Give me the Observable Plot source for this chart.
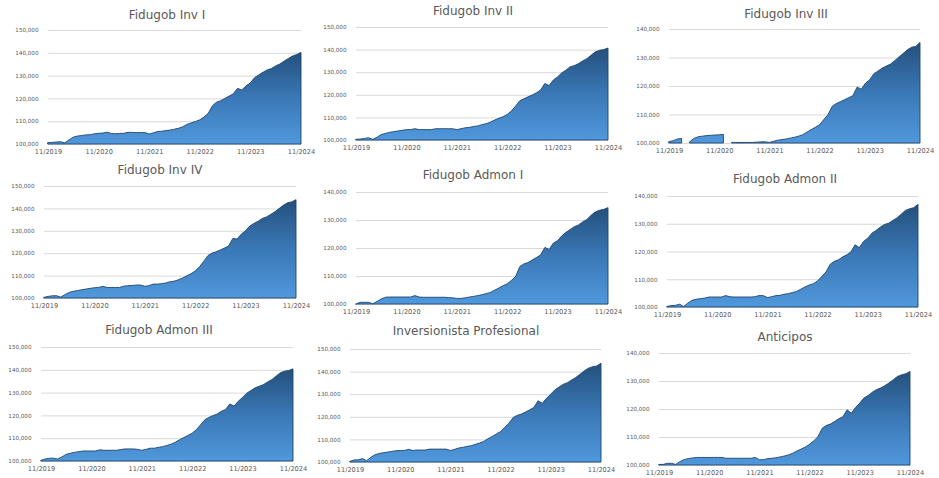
<!DOCTYPE html>
<html>
<head>
<meta charset="utf-8">
<script src="https://cdn.jsdelivr.net/npm/d3@7"></script>
<script src="https://cdn.jsdelivr.net/npm/@observablehq/plot@0.6"></script>
<style>
  html, body { margin: 0; padding: 0; background: #fff; }
  #wrap { position: relative; width: 939px; height: 478px; overflow: hidden; background: #fff; }
  .ttl { position: absolute; font-family: "DejaVu Sans", Verdana, sans-serif; font-size: 12px; color: #595959; white-space: nowrap; transform: translate(-50%, -50%); }
  .pnl { position: absolute; }
</style>
</head>
<body>
<div id="wrap"></div>
<script>
const months = [
  "2019-11","2019-12","2020-01","2020-02","2020-03","2020-04","2020-05","2020-06","2020-07","2020-08","2020-09","2020-10",
  "2020-11","2020-12","2021-01","2021-02","2021-03","2021-04","2021-05","2021-06","2021-07","2021-08","2021-09","2021-10",
  "2021-11","2021-12","2022-01","2022-02","2022-03","2022-04","2022-05","2022-06","2022-07","2022-08","2022-09","2022-10",
  "2022-11","2022-12","2023-01","2023-02","2023-03","2023-04","2023-05","2023-06","2023-07","2023-08","2023-09","2023-10",
  "2023-11","2023-12","2024-01","2024-02","2024-03","2024-04","2024-05","2024-06","2024-07","2024-08","2024-09","2024-10",
  "2024-11"
];
const xTickMonths = ["2019-11","2020-11","2021-11","2022-11","2023-11","2024-11"];
const yTicks150 = [100000,110000,120000,130000,140000,150000];
const yTicks140 = [100000,110000,120000,130000,140000];

const titles = ["Fidugob Inv I","Fidugob Inv II","Fidugob Inv III","Fidugob Inv IV","Fidugob Admon I","Fidugob Admon II","Fidugob Admon III","Inversionista Profesional","Anticipos"];

const invI = [100600,100700,100900,101000,100500,101800,103000,103500,103700,104000,104100,104500,
  104700,104800,105200,104600,104500,104600,104700,105100,105100,105000,105000,105000,
  104400,104900,105500,105600,105900,106100,106500,106900,107600,108600,109300,109900,
  110600,111800,113500,116800,118300,119000,120000,121000,122000,124400,123700,125500,
  126800,129100,130300,131500,132500,133100,134200,135100,136300,137500,138600,139200,140200];
const invII = [100300,100400,100700,101000,100300,101200,102400,102900,103400,103700,104000,104300,
  104600,104600,105000,104600,104600,104600,104600,105000,105000,105000,105000,105000,
  104600,105000,105400,105600,106000,106200,106800,107200,107900,108800,109600,110300,
  111300,112800,115000,117400,118200,119100,119900,120900,122100,125000,124100,126500,
  127900,129700,130900,132400,132900,133800,135000,136000,137500,139000,139700,140000,140700];
const invIII = [100500,100800,101400,101600,null,100500,101600,102200,102400,102600,102700,102800,
  102900,103000,null,100200,100200,100200,100200,100200,100200,100300,100400,100400,
  100200,100600,101000,101200,101400,101700,102000,102400,102900,103800,104700,105500,
  106400,108200,109900,112900,113800,114500,115200,115900,116600,119600,118900,121000,
  122200,124300,125300,126300,127000,127700,128900,130200,131400,132700,133600,133900,135300];
const invIV = [100300,100700,101000,101000,100400,101500,102500,103000,103300,103700,104000,104300,
  104600,104700,105200,104700,104700,104700,104700,105300,105500,105600,105800,105800,
  105200,105500,106200,106200,106400,106700,107200,107500,108100,108900,109900,110800,
  112100,113800,116300,118900,120000,120600,121400,122300,123200,126600,126300,128500,
  130000,132100,133300,134300,135500,136200,137300,138500,139900,141400,142500,142900,143900];
const admonI = [100000,100600,100600,100600,100100,100900,101800,102400,102500,102500,102500,102500,
  102500,102500,103000,102500,102400,102400,102400,102400,102400,102400,102300,102200,
  102000,102000,102200,102500,102700,103000,103300,103700,104100,104900,105700,106500,
  107200,108400,109800,113400,114300,114800,115700,116600,117500,120200,119500,121700,
  122600,124300,125600,126600,127600,128200,129300,130200,131700,132900,133500,133800,134400];
const admonII = [100200,100500,100600,101000,100200,101400,102400,102800,103000,103200,103600,103600,
  103600,103600,104100,103700,103600,103600,103600,103600,103600,103700,104100,104100,
  103400,103700,104100,104200,104600,104800,105200,105600,106400,107200,107900,108400,
  109400,111000,112600,115400,116400,117000,118000,118800,119800,122400,121400,123600,
  124800,126600,127600,128800,129700,130200,131200,132100,133400,134800,135400,135800,137000];
const admonIII = [100300,100900,101200,101200,100900,101800,102900,103400,103800,104100,104400,104400,
  104400,104400,104900,104700,104700,104700,104700,105000,105300,105300,105300,105100,
  104700,105100,105600,105600,106000,106300,106800,107400,108200,109300,110300,111200,
  112200,113700,115900,118100,119100,119900,120600,121800,122600,125000,124100,126200,
  127900,129700,130900,132100,132800,133500,134700,135700,137200,138700,139400,139700,140400];
const invProf = [100300,100900,101000,101500,100600,102100,103200,103800,104100,104400,104700,105000,
  105100,105100,105600,105100,105300,105300,105300,105700,105700,105700,105700,105700,
  105100,105600,106200,106500,106900,107200,107800,108400,109100,110300,111300,112400,
  113500,115300,117200,119700,120600,121200,122100,123100,124100,127100,126000,128200,
  130000,131900,133200,134400,135100,136300,137400,138800,140300,141500,142200,142500,143700];
const anticipos = [100200,100200,100600,100600,100200,101200,101900,102300,102500,102700,102700,102700,
  102700,102700,102700,102700,102400,102400,102400,102400,102400,102400,102400,102700,
  101900,101900,102300,102400,102600,102900,103200,103600,104200,105000,105700,106400,
  107400,108600,110100,113100,114100,114600,115500,116500,117200,119700,118500,120500,
  122100,123900,124800,126000,126900,127500,128300,129300,130400,131600,132200,132600,133400];

const series = [invI, invII, invIII, invIV, admonI, admonII, admonIII, invProf, anticipos];
const yTickSets = [yTicks150, yTicks150, yTicks140, yTicks150, yTicks140, yTicks140, yTicks150, yTicks150, yTicks140];

// layout: [plotLeft, plotRight, gridTop, plotBottom, titleCx, titleCy]
const layout = [
  [48, 301, 30, 144, 167, 15],
  [356, 608, 27, 140, 473, 11],
  [669, 920, 29, 143, 786, 14],
  [44, 296, 186, 298, 160, 170],
  [356, 608, 192, 304, 473, 175],
  [667, 918, 196, 307, 785, 179],
  [41, 293, 347, 461, 159, 330],
  [350, 601, 349, 462, 466, 331],
  [659, 910, 353, 465, 785, 337]
];

const parseM = d3.utcParse("%Y-%m");
const fmtX = d3.utcFormat("%m/%Y");
const wrap = document.getElementById("wrap");

series.forEach((vals, k) => {
  const [pl, pr, gt, pb, tx, ty] = layout[k];
  const mL = 48, mR = 18, mT = 6, mB = 16;
  const rows = months.map((m, i) => ({date: parseM(m), value: vals[i]}));
  const ticks = yTickSets[k];
  const gid = "grad" + k;
  const svg = Plot.plot({
    width: (pr - pl) + mL + mR,
    height: (pb - gt) + mT + mB,
    marginLeft: mL, marginRight: mR, marginTop: mT, marginBottom: mB,
    style: {fontFamily: "DejaVu Sans, Verdana, sans-serif", color: "#595959", background: "transparent", overflow: "visible"},
    x: {type: "utc", domain: [parseM(months[0]), parseM(months[months.length - 1])]},
    y: {domain: [ticks[0], ticks[ticks.length - 1]]},
    marks: [
      Plot.gridY(ticks, {stroke: "#d9d9d9", strokeOpacity: 1, strokeWidth: 1}),
      Plot.areaY(rows, {x: "date", y1: ticks[0], y2: "value", fill: `url(#${gid})`, stroke: "#1f4670", strokeWidth: 0.9}),
      Plot.axisY(ticks, {tickSize: 0, tickPadding: 10, tickFormat: d3.format(","), fontSize: 5.6, label: null}),
      Plot.axisX(xTickMonths.map(parseM), {tickSize: 0, tickPadding: 5, tickFormat: fmtX, fontSize: 6.6, label: null})
    ]
  });
  const defs = d3.select(svg).insert("defs", ":first-child");
  const lg = defs.append("linearGradient").attr("id", gid).attr("x1", 0).attr("y1", 0).attr("x2", 0).attr("y2", 1);
  lg.append("stop").attr("offset", "0%").attr("stop-color", "#24507c");
  lg.append("stop").attr("offset", "50%").attr("stop-color", "#3a78b6");
  lg.append("stop").attr("offset", "100%").attr("stop-color", "#5098dc");
  const p = document.createElement("div");
  p.className = "pnl";
  p.style.left = (pl - mL) + "px";
  p.style.top = (gt - mT) + "px";
  p.appendChild(svg);
  wrap.appendChild(p);
  const t = document.createElement("div");
  t.className = "ttl";
  t.textContent = titles[k];
  t.style.left = tx + "px";
  t.style.top = ty + "px";
  wrap.appendChild(t);
});
</script>
</body>
</html>
